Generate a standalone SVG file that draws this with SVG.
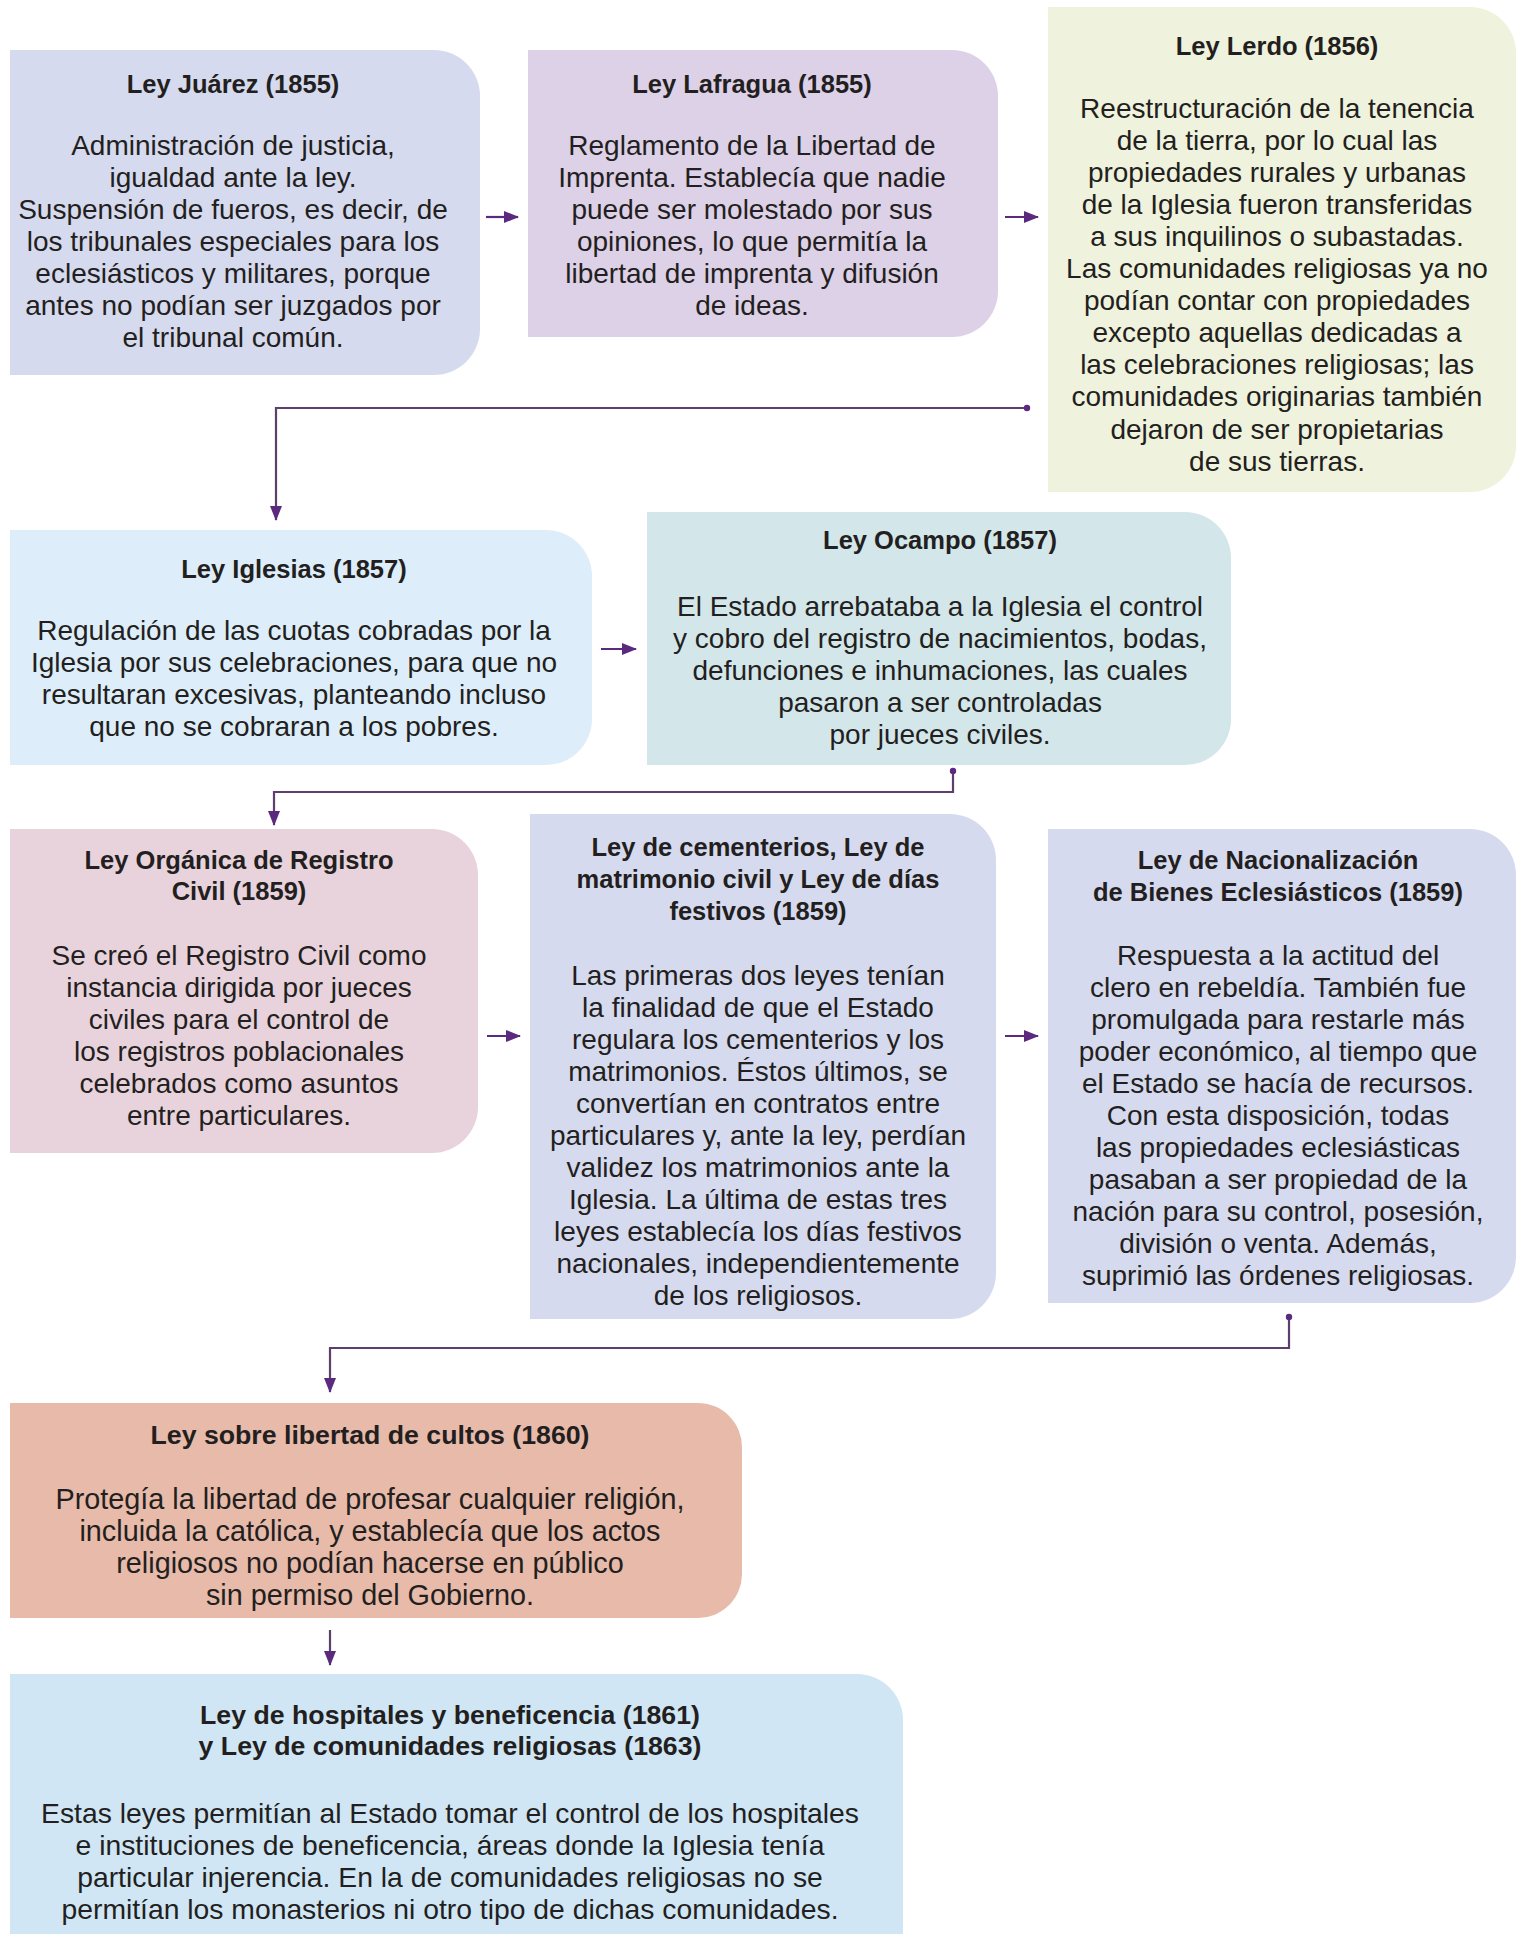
<svg xmlns="http://www.w3.org/2000/svg" width="1518" height="1934" viewBox="0 0 1518 1934">
<style>
.t{font-family:"Liberation Sans",Arial,sans-serif;font-weight:bold;font-size:25.5px;fill:#231f20;text-anchor:middle}
.b{font-family:"Liberation Sans",Arial,sans-serif;font-size:28px;fill:#231f20;text-anchor:middle}
.t2{font-size:26.7px}
.b9{font-size:28.8px}
.b10{font-size:28.3px}
.c{fill:none;stroke:#5d3f6e;stroke-width:2.2}
.a{fill:none;stroke:#5b2a7e;stroke-width:2.2}
</style>
<defs>
<marker id="ah" markerUnits="userSpaceOnUse" markerWidth="15" markerHeight="12" refX="14" refY="6" orient="auto">
<path d="M0,0 L15,6 L0,12 Z" fill="#5b2a7e"/>
</marker>
<marker id="dot" markerUnits="userSpaceOnUse" markerWidth="8" markerHeight="8" refX="4" refY="4">
<circle cx="4" cy="4" r="3.2" fill="#5b2a7e"/>
</marker>
</defs>
<rect width="1518" height="1934" fill="#ffffff"/>

<g id="juarez">
<path d="M10,50 H434 A46,46 0 0 1 480,96 V329 A46,46 0 0 1 434,375 H10 Z" fill="#d6daee"/>
<text class="t" x="233" y="93">Ley Juárez (1855)</text>
<text class="b"><tspan x="233" y="155">Administración de justicia,</tspan><tspan x="233" y="187">igualdad ante la ley.</tspan><tspan x="233" y="219">Suspensión de fueros, es decir, de</tspan><tspan x="233" y="251">los tribunales especiales para los</tspan><tspan x="233" y="283">eclesiásticos y militares, porque</tspan><tspan x="233" y="315">antes no podían ser juzgados por</tspan><tspan x="233" y="347">el tribunal común.</tspan></text>
</g>

<g id="lafragua">
<path d="M528,50 H952 A46,46 0 0 1 998,96 V291 A46,46 0 0 1 952,337 H528 Z" fill="#ddd1e8"/>
<text class="t" x="752" y="93">Ley Lafragua (1855)</text>
<text class="b"><tspan x="752" y="155">Reglamento de la Libertad de</tspan><tspan x="752" y="187">Imprenta. Establecía que nadie</tspan><tspan x="752" y="219">puede ser molestado por sus</tspan><tspan x="752" y="251">opiniones, lo que permitía la</tspan><tspan x="752" y="283">libertad de imprenta y difusión</tspan><tspan x="752" y="315">de ideas.</tspan></text>
</g>

<g id="lerdo">
<path d="M1048,7 H1470 A46,46 0 0 1 1516,53 V446 A46,46 0 0 1 1470,492 H1048 Z" fill="#eff2dc"/>
<text class="t" x="1277" y="55">Ley Lerdo (1856)</text>
<text class="b"><tspan x="1277" y="117.5">Reestructuración de la tenencia</tspan><tspan x="1277" y="149.6">de la tierra, por lo cual las</tspan><tspan x="1277" y="181.7">propiedades rurales y urbanas</tspan><tspan x="1277" y="213.8">de la Iglesia fueron transferidas</tspan><tspan x="1277" y="245.9">a sus inquilinos o subastadas.</tspan><tspan x="1277" y="278">Las comunidades religiosas ya no</tspan><tspan x="1277" y="310.1">podían contar con propiedades</tspan><tspan x="1277" y="342.2">excepto aquellas dedicadas a</tspan><tspan x="1277" y="374.3">las celebraciones religiosas; las</tspan><tspan x="1277" y="406.4">comunidades originarias también</tspan><tspan x="1277" y="438.5">dejaron de ser propietarias</tspan><tspan x="1277" y="470.6">de sus tierras.</tspan></text>
</g>

<g id="iglesias">
<path d="M10,530 H546 A46,46 0 0 1 592,576 V719 A46,46 0 0 1 546,765 H10 Z" fill="#ddeefa"/>
<text class="t" x="294" y="577.5">Ley Iglesias (1857)</text>
<text class="b"><tspan x="294" y="640">Regulación de las cuotas cobradas por la</tspan><tspan x="294" y="672">Iglesia por sus celebraciones, para que no</tspan><tspan x="294" y="704">resultaran excesivas, planteando incluso</tspan><tspan x="294" y="736">que no se cobraran a los pobres.</tspan></text>
</g>

<g id="ocampo">
<path d="M647,512 H1185 A46,46 0 0 1 1231,558 V719 A46,46 0 0 1 1185,765 H647 Z" fill="#d3e6ea"/>
<text class="t" x="940" y="549">Ley Ocampo (1857)</text>
<text class="b"><tspan x="940" y="616">El Estado arrebataba a la Iglesia el control</tspan><tspan x="940" y="648">y cobro del registro de nacimientos, bodas,</tspan><tspan x="940" y="680">defunciones e inhumaciones, las cuales</tspan><tspan x="940" y="712">pasaron a ser controladas</tspan><tspan x="940" y="744">por jueces civiles.</tspan></text>
</g>

<g id="organica">
<path d="M10,829 H432 A46,46 0 0 1 478,875 V1107 A46,46 0 0 1 432,1153 H10 Z" fill="#e8d3dd"/>
<text class="t"><tspan x="239" y="868.5">Ley Orgánica de Registro</tspan><tspan x="239" y="899.5">Civil (1859)</tspan></text>
<text class="b"><tspan x="239" y="965">Se creó el Registro Civil como</tspan><tspan x="239" y="997">instancia dirigida por jueces</tspan><tspan x="239" y="1029">civiles para el control de</tspan><tspan x="239" y="1061">los registros poblacionales</tspan><tspan x="239" y="1093">celebrados como asuntos</tspan><tspan x="239" y="1125">entre particulares.</tspan></text>
</g>

<g id="cementerios">
<path d="M530,814 H950 A46,46 0 0 1 996,860 V1273 A46,46 0 0 1 950,1319 H530 Z" fill="#d6daee"/>
<text class="t"><tspan x="758" y="856">Ley de cementerios, Ley de</tspan><tspan x="758" y="888">matrimonio civil y Ley de días</tspan><tspan x="758" y="920">festivos (1859)</tspan></text>
<text class="b"><tspan x="758" y="985">Las primeras dos leyes tenían</tspan><tspan x="758" y="1017">la finalidad de que el Estado</tspan><tspan x="758" y="1049">regulara los cementerios y los</tspan><tspan x="758" y="1081">matrimonios. Éstos últimos, se</tspan><tspan x="758" y="1113">convertían en contratos entre</tspan><tspan x="758" y="1145">particulares y, ante la ley, perdían</tspan><tspan x="758" y="1177">validez los matrimonios ante la</tspan><tspan x="758" y="1209">Iglesia. La última de estas tres</tspan><tspan x="758" y="1241">leyes establecía los días festivos</tspan><tspan x="758" y="1273">nacionales, independientemente</tspan><tspan x="758" y="1305">de los religiosos.</tspan></text>
</g>

<g id="nacionalizacion">
<path d="M1048,829 H1470 A46,46 0 0 1 1516,875 V1257 A46,46 0 0 1 1470,1303 H1048 Z" fill="#d6daee"/>
<text class="t"><tspan x="1278" y="869">Ley de Nacionalización</tspan><tspan x="1278" y="901">de Bienes Eclesiásticos (1859)</tspan></text>
<text class="b"><tspan x="1278" y="965">Respuesta a la actitud del</tspan><tspan x="1278" y="997">clero en rebeldía. También fue</tspan><tspan x="1278" y="1029">promulgada para restarle más</tspan><tspan x="1278" y="1061">poder económico, al tiempo que</tspan><tspan x="1278" y="1093">el Estado se hacía de recursos.</tspan><tspan x="1278" y="1125">Con esta disposición, todas</tspan><tspan x="1278" y="1157">las propiedades eclesiásticas</tspan><tspan x="1278" y="1189">pasaban a ser propiedad de la</tspan><tspan x="1278" y="1221">nación para su control, posesión,</tspan><tspan x="1278" y="1253">división o venta. Además,</tspan><tspan x="1278" y="1285">suprimió las órdenes religiosas.</tspan></text>
</g>

<g id="cultos">
<path d="M10,1403 H698 A44,44 0 0 1 742,1447 V1574 A44,44 0 0 1 698,1618 H10 Z" fill="#e7baa9"/>
<text class="t t2" x="370" y="1444">Ley sobre libertad de cultos (1860)</text>
<text class="b b9"><tspan x="370" y="1509">Protegía la libertad de profesar cualquier religión,</tspan><tspan x="370" y="1541">incluida la católica, y establecía que los actos</tspan><tspan x="370" y="1573">religiosos no podían hacerse en público</tspan><tspan x="370" y="1605">sin permiso del Gobierno.</tspan></text>
</g>

<g id="hospitales">
<path d="M10,1674 H857 A46,46 0 0 1 903,1720 V1934 H10 Z" fill="#d0e6f5"/>
<text class="t t2"><tspan x="450" y="1724">Ley de hospitales y beneficencia (1861)</tspan><tspan x="450" y="1755">y Ley de comunidades religiosas (1863)</tspan></text>
<text class="b b10"><tspan x="450" y="1823">Estas leyes permitían al Estado tomar el control de los hospitales</tspan><tspan x="450" y="1855">e instituciones de beneficencia, áreas donde la Iglesia tenía</tspan><tspan x="450" y="1887">particular injerencia. En la de comunidades religiosas no se</tspan><tspan x="450" y="1919">permitían los monasterios ni otro tipo de dichas comunidades.</tspan></text>
</g>

<g id="connectors">
<path class="a" d="M486,217 H518" marker-end="url(#ah)"/>
<path class="a" d="M1005,217 H1038" marker-end="url(#ah)"/>
<path class="c" d="M1027,408 H276 V520" marker-start="url(#dot)" marker-end="url(#ah)"/>
<path class="a" d="M601,649 H636" marker-end="url(#ah)"/>
<path class="c" d="M953,771 V792 H274 V825" marker-start="url(#dot)" marker-end="url(#ah)"/>
<path class="a" d="M487,1036 H520" marker-end="url(#ah)"/>
<path class="a" d="M1005,1036 H1038" marker-end="url(#ah)"/>
<path class="c" d="M1289,1317 V1348 H330 V1392" marker-start="url(#dot)" marker-end="url(#ah)"/>
<path class="c" d="M330,1630 V1665" marker-end="url(#ah)"/>
</g>
</svg>
